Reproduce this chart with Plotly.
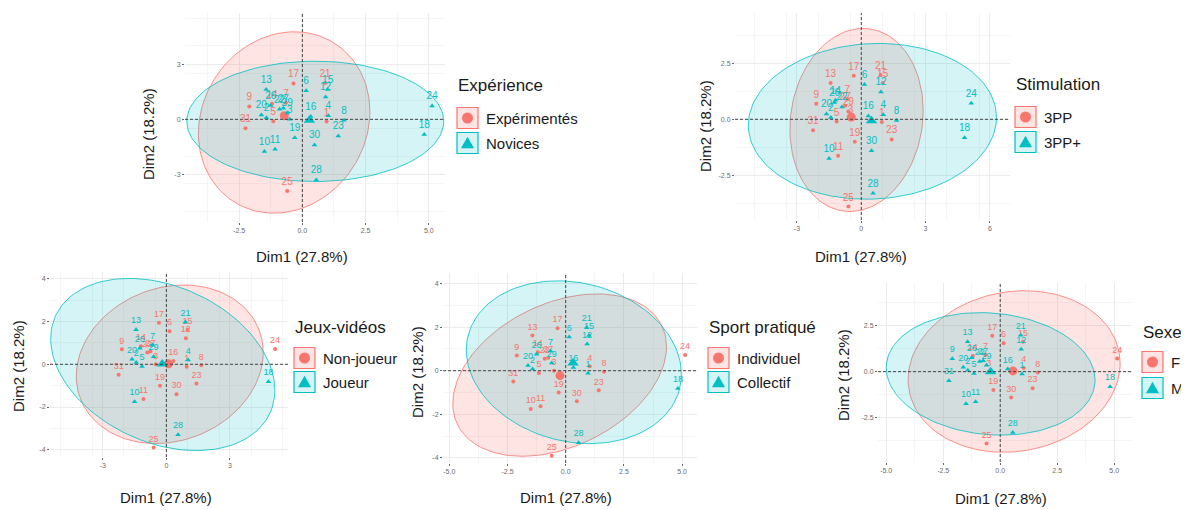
import numpy as np
import plotly.graph_objects as go

W, H = 1189, 510
OFF = 8  # default body margin of the html page
FW, FH = W - OFF, H - OFF
RED = "#F8766D"
TEAL = "#00BFC4"
RED_FILL = "rgba(248,118,109,0.20)"
TEAL_FILL = "rgba(0,191,196,0.17)"
FONT = "Liberation Sans"

# individual coordinates on the first two PCA dimensions
ind_id = [str(i) for i in range(1, 32)]
dim1 = [0.96, -1.42, -0.50, 1.03, -1.15, 0.15, -0.65, 1.65, -2.10, -1.50,
        -1.08, 0.92, -1.43, -1.20, 1.00, 0.33, -0.35, 4.82, -0.30, -1.62,
        0.90, -0.90, 1.42, 5.13, -0.60, -1.25, -0.75, 0.55, -0.60, 0.48, -2.25]
dim2 = [-0.12, 0.08, 0.00, 0.20, -0.10, 1.55, 0.90, -0.05, 0.70, -1.75,
        -1.63, 1.22, 1.62, 0.85, 1.62, 0.15, 1.95, -0.82, -1.00, 0.24,
        1.98, 0.55, -0.90, 0.72, -3.90, 0.75, 0.60, -3.30, 0.35, -1.40, -0.49]

# group of each individual (0 = first level, 1 = second level)
experience_levels = ["Expérimentés", "Novices"]
experience = [0, 1, 1, 1, 0, 1, 0, 1, 0, 1, 1, 1, 1, 0, 1, 1, 0, 1, 1, 1,
              0, 1, 1, 1, 0, 1, 1, 1, 1, 1, 0]
stimulation_levels = ["3PP", "3PP+"]
stimulation = [0, 1, 0, 1, 0, 1, 0, 1, 0, 1, 0, 1, 0, 1, 0, 1, 0, 1, 0, 1,
               0, 1, 0, 1, 0, 1, 0, 1, 0, 1, 0]
jeux_levels = ["Non-joueur", "Joueur"]
jeux = [0, 1, 0, 1, 1, 0, 1, 0, 0, 1, 0, 0, 1, 0, 0, 0, 0, 1, 0, 1,
        1, 0, 0, 0, 0, 1, 0, 1, 1, 0, 0]
sport_levels = ["Individuel", "Collectif"]
sport = [1, 1, 0, 0, 0, 1, 1, 0, 0, 0, 0, 1, 0, 0, 1, 1, 0, 1, 0, 1,
         1, 0, 0, 0, 0, 1, 0, 1, 1, 0, 0]
sexe_levels = ["F", "M"]
sexe = [1, 1, 0, 0, 1, 0, 0, 0, 1, 1, 1, 1, 1, 0, 0, 1, 0, 1, 0, 1,
        1, 1, 0, 0, 0, 1, 1, 1, 1, 0, 1]

# 95% ellipses: centre, half extents, tilt  [first, second level]
exp_ell = dict(cx=[-0.72, 0.51], cy=[-0.17, -0.11], rx=[3.39, 5.08], ry=[4.93, 3.27], rho=[0.12, 0.0])
stim_ell = dict(cx=[-0.22, 0.52], cy=[-0.03, -0.09], rx=[3.11, 5.79], ry=[4.09, 3.48], rho=[0.10, 0.05])
jeux_ell = dict(cx=[0.16, -0.17], cy=[0.0, -0.01], rx=[4.41, 5.29], ry=[3.71, 4.03], rho=[0.15, -0.30])
sport_ell = dict(cx=[-0.26, 0.35], cy=[-0.20, 0.39], rx=[4.59, 4.62], ry=[3.72, 3.73], rho=[0.35, -0.15])
sexe_ell = dict(cx=[0.61, -0.42], cy=[0.01, -0.12], rx=[4.65, 4.58], ry=[4.39, 3.33], rho=[0.10, -0.10])

x_title = "Dim1 (27.8%)"
y_title = "Dim2 (18.2%)"

# tick values / labels per panel
exp_xt, exp_xl = [-2.5, 0, 2.5, 5.0], ["-2.5", "0.0", "2.5", "5.0"]
exp_yt, exp_yl = [-3, 0, 3], ["-3", "0", "3"]
stim_xt, stim_xl = [-3, 0, 3, 6], ["-3", "0", "3", "6"]
stim_yt, stim_yl = [-2.5, 0, 2.5], ["-2.5", "0.0", "2.5"]
jeux_xt, jeux_xl = [-3, 0, 3], ["-3", "0", "3"]
jeux_yt, jeux_yl = [-4, -2, 0, 2, 4], ["-4", "-2", "0", "2", "4"]
sport_xt, sport_xl = [-5, -2.5, 0, 2.5, 5], ["-5.0", "-2.5", "0.0", "2.5", "5.0"]
sport_yt, sport_yl = [-4, -2, 0, 2, 4], ["-4", "-2", "0", "2", "4"]
sexe_xt, sexe_xl = [-5, -2.5, 0, 2.5, 5], ["-5.0", "-2.5", "0.0", "2.5", "5.0"]
sexe_yt, sexe_yl = [-2.5, 0, 2.5], ["-2.5", "0.0", "2.5"]

# layout of each panel, in window pixels
panels = [
    dict(name="Expérience", levels=experience_levels, grp=experience, ell=exp_ell,
         box=(185, 445, 13, 222), xr=(-4.64, 5.64), yr=(-5.58, 5.78),
         xt=exp_xt, xl=exp_xl, yt=exp_yt, yl=exp_yl, xm=1.25, ym=1.5,
         xtit=(302, 256), ytit=(148, 134), leg=(457, 86, 118, 143), lab=10),
    dict(name="Stimulation", levels=stimulation_levels, grp=stimulation, ell=stim_ell,
         box=(735, 1010, 13, 220), xr=(-5.89, 6.94), yr=(-4.5, 4.75),
         xt=stim_xt, xl=stim_xl, yt=stim_yt, yl=stim_yl, xm=1.5, ym=1.25,
         xtit=(861, 256), ytit=(705, 126), leg=(1015, 85, 117, 142), lab=10),
    dict(name="Jeux-vidéos", levels=jeux_levels, grp=jeux, ell=jeux_ell,
         box=(50, 288, 272, 457), xr=(-5.49, 5.74), yr=(-4.34, 4.32),
         xt=jeux_xt, xl=jeux_xl, yt=jeux_yt, yl=jeux_yl, xm=1.5, ym=1.0,
         xtit=(166, 497), ytit=(18, 366), leg=(294, 327, 358, 382), lab=9),
    dict(name="Sport pratiqué", levels=sport_levels, grp=sport, ell=sport_ell,
         box=(443, 697, 273, 463), xr=(-5.27, 5.64), yr=(-4.23, 4.48),
         xt=sport_xt, xl=sport_xl, yt=sport_yt, yl=sport_yl, xm=1.25, ym=1.0,
         xtit=(566, 497), ytit=(417, 372), leg=(708, 327, 358, 382), lab=9),
    dict(name="Sexe", levels=sexe_levels, grp=sexe, ell=sexe_ell,
         box=(878, 1132, 283, 462), xr=(-5.36, 5.78), yr=(-4.91, 4.82),
         xt=sexe_xt, xl=sexe_xl, yt=sexe_yt, yl=sexe_yl, xm=1.25, ym=1.25,
         xtit=(1001, 498), ytit=(843, 375), leg=(1142, 332, 362, 388), lab=9),
]

colors = [RED, TEAL]
fills = [RED_FILL, TEAL_FILL]
symbols = ["circle", "triangle-up"]


def px(x):
    return (x - OFF) / FW


def py(y):
    return 1 - (y - OFF) / FH


def ellipse_xy(cx, cy, rx, ry, rho, n=150):
    t = np.linspace(0, 2 * np.pi, n)
    ex = cx + rx * np.cos(t)
    ey = cy + ry * (rho * np.cos(t) + np.sqrt(1 - rho ** 2) * np.sin(t))
    return ex, ey


fig = go.Figure()
shapes = []
annotations = []
d1 = np.array(dim1)
d2 = np.array(dim2)
labels = np.array(ind_id)

for i, p in enumerate(panels, start=1):
    xa = "x" if i == 1 else f"x{i}"
    ya = "y" if i == 1 else f"y{i}"
    grp = np.array(p["grp"])
    ell = p["ell"]

    # ellipses first
    for g in (0, 1):
        ex, ey = ellipse_xy(ell["cx"][g], ell["cy"][g], ell["rx"][g], ell["ry"][g], ell["rho"][g])
        fig.add_trace(go.Scatter(x=ex, y=ey, mode="lines", fill="toself",
                                 fillcolor=fills[g], line=dict(color=colors[g], width=0.8),
                                 hoverinfo="skip", xaxis=xa, yaxis=ya))
    # points with labels, then group means
    for g in (0, 1):
        m = grp == g
        fig.add_trace(go.Scatter(
            x=d1[m], y=d2[m], text=labels[m], mode="markers+text",
            textposition="top center", cliponaxis=False,
            textfont=dict(color=colors[g], size=p["lab"], family=FONT),
            marker=dict(symbol=symbols[g], color=colors[g], size=4 if g == 0 else 5),
            xaxis=xa, yaxis=ya))
        fig.add_trace(go.Scatter(
            x=[d1[m].mean()], y=[d2[m].mean()], mode="markers",
            marker=dict(symbol=symbols[g], color=colors[g], size=9 if g == 0 else 10),
            xaxis=xa, yaxis=ya))

    x0, x1, y0, y1 = p["box"]
    xmin, xmax = p["xr"]
    ymin, ymax = p["yr"]
    xminor = [v for v in np.arange(-20, 20, p["xm"]) if xmin < v < xmax]
    yminor = [v for v in np.arange(-20, 20, p["ym"]) if ymin < v < ymax]
    axis_common = dict(showline=False, zeroline=False, showgrid=True,
                       gridcolor="#EBEBEB", gridwidth=1, ticks="outside", ticklen=2,
                       tickcolor="#666666", tickwidth=1,
                       tickfont=dict(size=7, color="#6b6b6b", family=FONT))
    fig.layout[("xaxis" if i == 1 else f"xaxis{i}")] = dict(
        domain=[px(x0), px(x1)], range=[xmin, xmax], anchor=ya,
        tickmode="array", tickvals=p["xt"], ticktext=p["xl"],
        minor=dict(tickmode="array", tickvals=xminor, showgrid=True,
                   gridcolor="#F5F5F5", gridwidth=0.7, ticks=""),
        **axis_common)
    fig.layout[("yaxis" if i == 1 else f"yaxis{i}")] = dict(
        domain=[py(y1), py(y0)], range=[ymin, ymax], anchor=xa,
        tickmode="array", tickvals=p["yt"], ticktext=p["yl"],
        minor=dict(tickmode="array", tickvals=yminor, showgrid=True,
                   gridcolor="#F5F5F5", gridwidth=0.7, ticks=""),
        **axis_common)

    # dashed reference lines at 0
    shapes.append(dict(type="line", xref=f"{xa} domain", x0=0, x1=1, yref=ya, y0=0, y1=0,
                       line=dict(color="#444444", width=1, dash="3px,2px")))
    shapes.append(dict(type="line", xref=xa, x0=0, x1=0, yref=f"{ya} domain", y0=0, y1=1,
                       line=dict(color="#444444", width=1, dash="3px,2px")))

    # axis titles
    tx, ty = p["xtit"]
    annotations.append(dict(text=x_title, x=px(tx), y=py(ty), xref="paper", yref="paper",
                            showarrow=False, xanchor="center", yanchor="middle",
                            font=dict(size=15, color="#1a1a1a", family=FONT)))
    tx, ty = p["ytit"]
    annotations.append(dict(text=y_title, x=px(tx), y=py(ty), xref="paper", yref="paper",
                            showarrow=False, xanchor="center", yanchor="middle", textangle=-90,
                            font=dict(size=15, color="#1a1a1a", family=FONT)))

    # legend
    lx, lty, l1, l2 = p["leg"]
    annotations.append(dict(text=p["name"], x=px(lx - 1), y=py(lty), xref="paper", yref="paper",
                            showarrow=False, xanchor="left", yanchor="middle",
                            font=dict(size=17, color="#1a1a1a", family=FONT)))
    k = 21
    for g, ly in enumerate((l1, l2)):
        shapes.append(dict(type="rect", xref="paper", yref="paper",
                           x0=px(lx), x1=px(lx + k), y0=py(ly + k / 2), y1=py(ly - k / 2),
                           line=dict(color=colors[g], width=1.2), fillcolor=fills[g]))
        cx, cy = lx + k / 2, ly
        if g == 0:
            r = 5.5
            shapes.append(dict(type="circle", xref="paper", yref="paper",
                               x0=px(cx - r), x1=px(cx + r), y0=py(cy + r), y1=py(cy - r),
                               line=dict(width=0), fillcolor=colors[g]))
        else:
            s = 6.5
            path = (f"M {px(cx - s)} {py(cy + s * 0.8)} L {px(cx + s)} {py(cy + s * 0.8)} "
                    f"L {px(cx)} {py(cy - s * 0.95)} Z")
            shapes.append(dict(type="path", xref="paper", yref="paper", path=path,
                               line=dict(width=0), fillcolor=colors[g]))
        annotations.append(dict(text=p["levels"][g], x=px(lx + k + 6), y=py(ly),
                                xref="paper", yref="paper", showarrow=False,
                                xanchor="left", yanchor="middle",
                                font=dict(size=15, color="#1a1a1a", family=FONT)))

fig.update_layout(width=FW, height=FH, margin=dict(l=0, r=0, t=0, b=0),
                  paper_bgcolor="white", plot_bgcolor="white", showlegend=False,
                  font=dict(family=FONT), shapes=shapes, annotations=annotations)
fig.write_html("out.html")
